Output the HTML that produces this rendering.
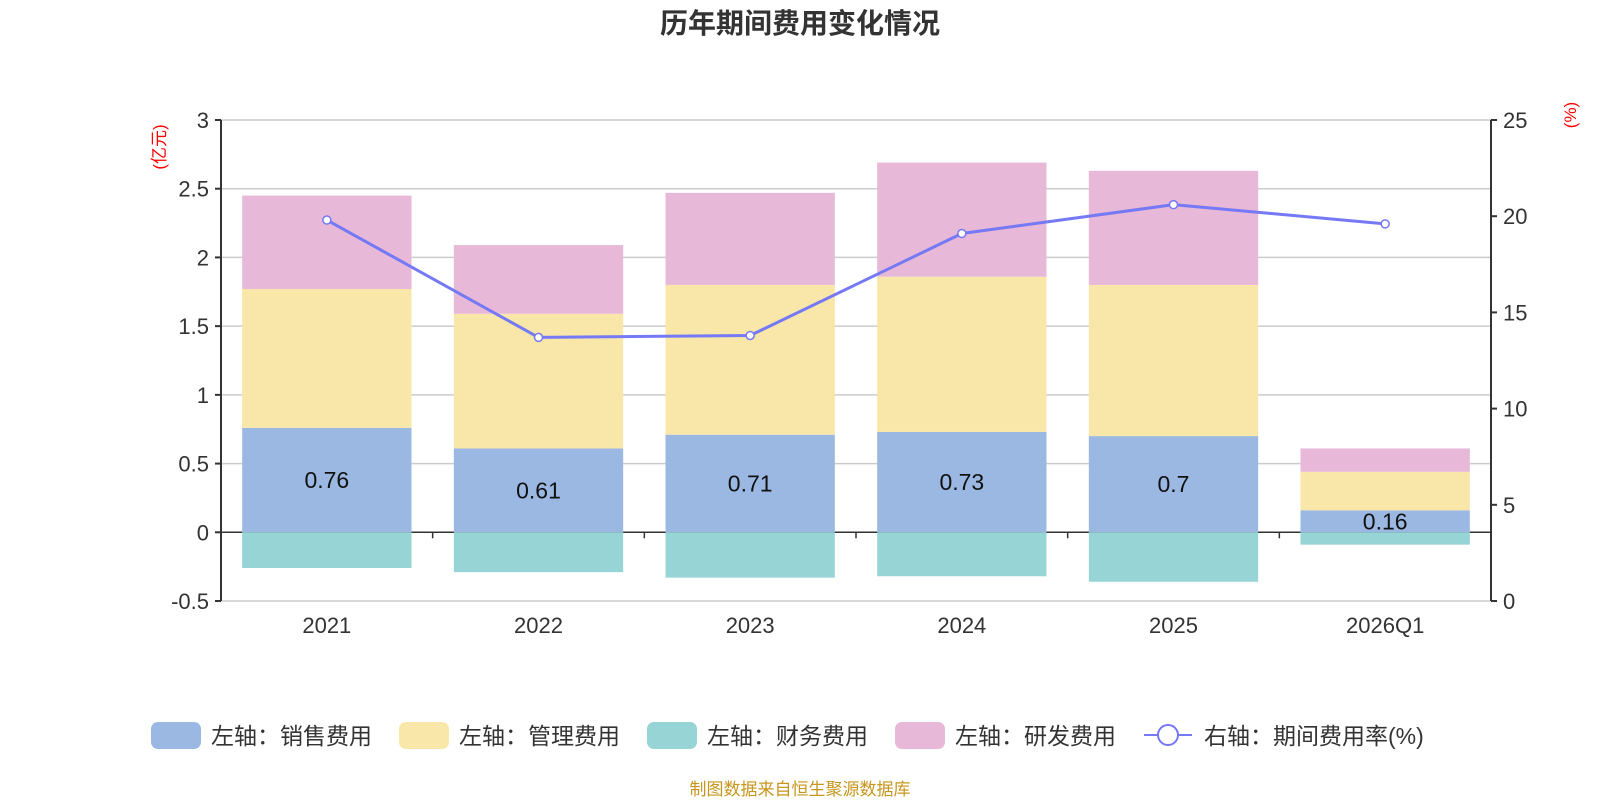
<!DOCTYPE html>
<html><head><meta charset="utf-8"><style>
body{margin:0;background:#fff;}
svg text{font-family:"Liberation Sans","Noto Sans CJK SC",sans-serif;}
</style></head><body>
<svg id="c" width="1600" height="800">
<text x="800" y="33" text-anchor="middle" font-size="28" font-weight="bold" fill="#333">历年期间费用变化情况</text>
<text transform="translate(165,147) rotate(-90)" text-anchor="middle" font-size="17" fill="#f00">(亿元)</text>
<text transform="translate(1576,115) rotate(-90)" text-anchor="middle" font-size="17" fill="#f00">(%)</text>
<g id="grid"></g><g id="bars"></g><g id="axes"></g><g id="line"></g><g id="legend"></g>
<text x="800" y="795" text-anchor="middle" font-size="17" fill="#c8961e">制图数据来自恒生聚源数据库</text>
</svg>
<script>
const categories=["2021","2022","2023","2024","2025","2026Q1"];
const sales=[0.76,0.61,0.71,0.73,0.70,0.16];
const admin=[1.01,0.98,1.09,1.13,1.10,0.28];
const finance=[-0.26,-0.29,-0.33,-0.32,-0.36,-0.09];
const rnd=[0.68,0.50,0.67,0.83,0.83,0.17];
const rate=[19.8,13.7,13.8,19.1,20.6,19.6];
const leftTicks=[-0.5,0,0.5,1,1.5,2,2.5,3];
const rightTicks=[0,5,10,15,20,25];
const NS="http://www.w3.org/2000/svg";
const L=221,R=1491,T=120,B=601;
const yL=v=>B-(v+0.5)/3.5*(B-T);
const yR=v=>B-v/25*(B-T);
const bw=(R-L)/categories.length;
const xC=i=>L+bw*(i+0.5);
function mk(p,tag,a){const e=document.createElementNS(NS,tag);for(const k in a)e.setAttribute(k,a[k]);p.appendChild(e);return e;}
const grid=document.getElementById('grid'),axes=document.getElementById('axes'),bars=document.getElementById('bars'),line=document.getElementById('line'),leg=document.getElementById('legend');
leftTicks.forEach(v=>{const y=yL(v);
 const g=mk(grid,'line',{x1:L,x2:R,y1:y,y2:y,stroke:v===0?'#333':'#ccc','stroke-width':1.5});
 
 
 mk(axes,'line',{x1:L-6,x2:L,y1:y,y2:y,stroke:'#333','stroke-width':2});
 const t=mk(axes,'text',{x:L-12,y:y+8,'text-anchor':'end','font-size':22,fill:'#333'});t.textContent=v;
 
 });
rightTicks.forEach(v=>{const y=yR(v);
 mk(axes,'line',{x1:R,x2:R+6,y1:y,y2:y,stroke:'#333','stroke-width':2});
 const t=mk(axes,'text',{x:R+12,y:y+8,'font-size':22,fill:'#333'});t.textContent=v;
 
 });
mk(axes,'line',{x1:L,x2:L,y1:T,y2:B,stroke:'#333','stroke-width':2});
mk(axes,'line',{x1:R,x2:R,y1:T,y2:B,stroke:'#333','stroke-width':2});
for(let i=1;i<categories.length;i++){mk(axes,'line',{x1:L+bw*i,x2:L+bw*i,y1:yL(0),y2:yL(0)+6,stroke:'#333','stroke-width':1.5});}
const cols={s:'#9bb8e2',a:'#f8e7a8',f:'#97d4d5',r:'#e7b8d8'};
const bwid=bw*0.8;
categories.forEach((c,i)=>{const x=xC(i)-bwid/2;
 const segs=[[0,sales[i],cols.s,'bar-sales'],[sales[i],sales[i]+admin[i],cols.a,'bar-admin'],[sales[i]+admin[i],sales[i]+admin[i]+rnd[i],cols.r,'bar-rnd'],[finance[i],0,cols.f,'bar-finance']];
 segs.forEach(s=>{const r=mk(bars,'rect',{x:x,width:bwid,y:yL(s[1]),height:yL(s[0])-yL(s[1]),fill:s[2]});
  
  });
 const t=mk(bars,'text',{x:xC(i),y:yL(sales[i]/2)+8,'text-anchor':'middle','font-size':23,fill:'#111'});t.textContent=sales[i];
 
 
 const xl=mk(axes,'text',{x:xC(i),y:633,'text-anchor':'middle','font-size':22,fill:'#333'});xl.textContent=c;
 
 });
const pl=mk(line,'polyline',{points:rate.map((v,i)=>xC(i)+','+yR(v)).join(' '),fill:'none',stroke:'#7579f5','stroke-width':3});


rate.forEach((v,i)=>{const c=mk(line,'circle',{cx:xC(i),cy:yR(v),r:4,fill:'#fff',stroke:'#7579f5','stroke-width':1.5});
 
 });
const items=[[151,cols.s,'左轴：销售费用'],[399,cols.a,'左轴：管理费用'],[647,cols.f,'左轴：财务费用'],[895,cols.r,'左轴：研发费用']];
items.forEach(it=>{const g=mk(leg,'g',{});
 
 
 mk(g,'rect',{x:it[0],y:722,width:50,height:27,rx:7,fill:it[1]});
 const t=mk(g,'text',{x:it[0]+60,y:744,'font-size':23,fill:'#333'});t.textContent=it[2];});
const g5=mk(leg,'g',{});


mk(g5,'line',{x1:1144,x2:1192,y1:735,y2:735,stroke:'#7579f5','stroke-width':2});
mk(g5,'circle',{cx:1168,cy:735,r:10,fill:'#fff',stroke:'#7579f5','stroke-width':2});
const t5=mk(g5,'text',{x:1204,y:744,'font-size':23,fill:'#333'});t5.textContent='右轴：期间费用率(%)';
</script>
</body></html>
